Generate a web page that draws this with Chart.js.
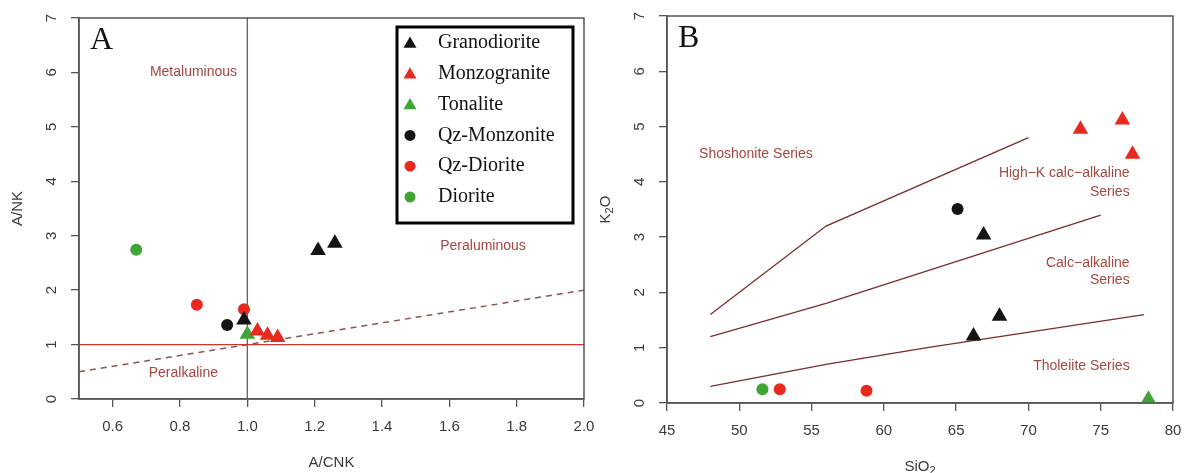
<!DOCTYPE html>
<html>
<head>
<meta charset="utf-8">
<script src="https://cdn.jsdelivr.net/npm/chart.js@4.4.0/dist/chart.umd.min.js"></script>
<style>
  html, body { margin: 0; padding: 0; background: #fff; }
  #wrap { position: relative; width: 1187px; height: 473px; }
  .panel { position: absolute; top: 0; }
  #panelA { left: 0; }
  #panelB { left: 600px; }
</style>
</head>
<body>
<div id="wrap">
  <div class="panel" id="panelA"><canvas id="chartA" width="600" height="473"></canvas></div>
  <div class="panel" id="panelB"><canvas id="chartB" width="587" height="473"></canvas></div>
</div>
<script>
// rock groups (same order in both diagrams and in the legend)
const rockNames = ['Granodiorite', 'Monzogranite', 'Tonalite', 'Qz-Monzonite', 'Qz-Diorite', 'Diorite'];
const rockColors = ['#141414', '#e8291f', '#3fa535', '#141414', '#e8291f', '#3fa535'];
const rockShapes = ['triangle', 'triangle', 'triangle', 'circle', 'circle', 'circle'];

// A: A/CNK (x) vs A/NK (y)
const acnkGranodiorite = [1.21, 1.26, 0.99];
const ankGranodiorite  = [2.73, 2.86, 1.45];
const acnkMonzogranite = [1.03, 1.06, 1.09];
const ankMonzogranite  = [1.25, 1.17, 1.13];
const acnkTonalite = [1.00];
const ankTonalite  = [1.19];
const acnkQzMonzonite = [0.94];
const ankQzMonzonite  = [1.36];
const acnkQzDiorite = [0.85, 0.99];
const ankQzDiorite  = [1.73, 1.65];
const acnkDiorite = [0.67];
const ankDiorite  = [2.74];

// B: SiO2 (x) vs K2O (y)
const sio2Granodiorite = [66.9, 68.0, 66.2];
const k2oGranodiorite  = [3.04, 1.57, 1.21];
const sio2Monzogranite = [73.6, 76.5, 77.2];
const k2oMonzogranite  = [4.95, 5.12, 4.50];
const sio2Tonalite = [78.3];
const k2oTonalite  = [0.07];
const sio2QzMonzonite = [65.1];
const k2oQzMonzonite  = [3.51];
const sio2QzDiorite = [52.8, 58.8];
const k2oQzDiorite  = [0.25, 0.22];
const sio2Diorite = [51.6];
const k2oDiorite  = [0.25];

// field boundaries in B
const shoshoniteSiO2 = [48, 56, 70];
const shoshoniteK2O  = [1.6, 3.2, 4.8];
const highKSiO2 = [48, 56, 75];
const highKK2O  = [1.2, 1.8, 3.4];
const tholeiiteSiO2 = [48, 56, 63, 78];
const tholeiiteK2O  = [0.3, 0.7, 1.0, 1.6];

// field boundaries in A
const metaluminousLimitX = [1.0, 1.0];
const metaluminousLimitY = [0, 7];
const peralkalineLimitX = [0.5, 2.0];
const peralkalineLimitY = [1, 1];
const equalLineX = [0.5, 2.0];
const equalLineY = [0.5, 2.0];

// axis ticks
const ticksAcnk = [0.6, 0.8, 1.0, 1.2, 1.4, 1.6, 1.8, 2.0];
const ticksAnk = [0, 1, 2, 3, 4, 5, 6, 7];
const ticksSiO2 = [45, 50, 55, 60, 65, 70, 75, 80];
const ticksK2O = [0, 1, 2, 3, 4, 5, 6, 7];

const SANS = '"Liberation Sans", Arial, sans-serif';
const SERIF = '"Liberation Serif", "Times New Roman", serif';

const toPoints = (xs, ys) => xs.map((x, i) => ({ x, y: ys[i] }));

function rockSets(xArrays, yArrays) {
  return rockNames.map((name, i) => ({
    label: name,
    rock: true,
    data: toPoints(xArrays[i], yArrays[i]),
    pointStyle: rockShapes[i],
    pointRadius: rockShapes[i] === 'triangle' ? 9 : 6,
    backgroundColor: rockColors[i],
    borderColor: rockColors[i],
    pointBorderWidth: 0,
    showLine: false,
    order: 1
  }));
}

function lineSet(xs, ys, color, width, dash) {
  return {
    data: toPoints(xs, ys),
    showLine: true,
    borderColor: color,
    borderWidth: width,
    borderDash: dash || [],
    pointRadius: 0,
    fill: false,
    order: 2
  };
}

function axis(min, max, ticks, size, horizontal) {
  return {
    type: 'linear',
    min, max,
    afterBuildTicks: s => { s.ticks = ticks.map(v => ({ value: v })); },
    afterFit: s => { if (horizontal) s.height = size; else s.width = size; },
    ticks: { display: false },
    grid: { drawOnChartArea: false, drawTicks: true, tickLength: 8, color: '#555', lineWidth: 1.3 },
    border: { display: true, color: '#555', width: 1.5 }
  };
}

// text made of plain and subscript pieces, centred on (cx, cy)
function drawRich(ctx, parts, cx, cy, angle) {
  const big = '15px ' + SANS, small = '11px ' + SANS;
  let total = 0;
  parts.forEach(p => { ctx.font = p[1] ? small : big; total += ctx.measureText(p[0]).width; });
  ctx.save();
  ctx.translate(cx, cy);
  ctx.rotate(angle);
  ctx.textAlign = 'left';
  ctx.textBaseline = 'middle';
  let x = -total / 2;
  parts.forEach(p => {
    ctx.font = p[1] ? small : big;
    ctx.fillText(p[0], x, p[1] ? 4 : 0);
    x += ctx.measureText(p[0]).width;
  });
  ctx.restore();
}

function drawLegend(chart, ctx) {
  const box = { left: 397, top: 27, right: 573, bottom: 223 };
  ctx.lineWidth = 3;
  ctx.strokeStyle = '#000';
  ctx.strokeRect(box.left, box.top, box.right - box.left, box.bottom - box.top);
  chart.data.datasets.filter(d => d.rock).forEach((d, i) => {
    const cy = box.top + 16 + i * 30.8;
    ctx.fillStyle = d.backgroundColor;
    Chart.helpers.drawPoint(ctx, {
      pointStyle: d.pointStyle,
      radius: d.pointStyle === 'triangle' ? 7.5 : 5.5,
      rotation: 0,
      borderWidth: 0
    }, box.left + 13, d.pointStyle === 'triangle' ? cy + 1 : cy);
    ctx.fillStyle = '#111';
    ctx.font = '20px ' + SERIF;
    ctx.textAlign = 'left';
    ctx.textBaseline = 'middle';
    ctx.fillText(d.label, box.left + 41, cy);
  });
}

// frame, tick labels, titles, field names and panel letter
const decorations = cfg => ({
  id: 'decorations',
  afterDraw(chart) {
    const { ctx, chartArea: ca } = chart;
    const x = chart.scales.x, y = chart.scales.y;
    ctx.save();
    ctx.strokeStyle = '#555';
    ctx.lineWidth = 1.5;
    ctx.strokeRect(ca.left, ca.top, ca.right - ca.left, ca.bottom - ca.top);

    ctx.fillStyle = '#3a3a3a';
    ctx.font = '15px ' + SANS;
    ctx.textAlign = 'center';
    ctx.textBaseline = 'middle';
    cfg.xTicks.forEach(v => ctx.fillText(v.toFixed(cfg.xDigits), x.getPixelForValue(v), ca.bottom + 28));
    cfg.yTicks.forEach(v => {
      ctx.save();
      ctx.translate(ca.left - 27, y.getPixelForValue(v));
      ctx.rotate(-Math.PI / 2);
      ctx.fillText(String(v), 0, 0);
      ctx.restore();
    });

    drawRich(ctx, cfg.xTitle, (ca.left + ca.right) / 2, ca.bottom + 64, 0);
    drawRich(ctx, cfg.yTitle, ca.left - 61, (ca.top + ca.bottom) / 2, -Math.PI / 2);

    ctx.fillStyle = '#a5463f';
    ctx.font = '14px ' + SANS;
    ctx.textBaseline = 'middle';
    cfg.fields.forEach(f => {
      ctx.textAlign = f.align || 'center';
      ctx.fillText(f.text, x.getPixelForValue(f.x), y.getPixelForValue(f.y));
    });

    ctx.fillStyle = '#111';
    ctx.font = '32px ' + SERIF;
    ctx.textAlign = 'left';
    ctx.textBaseline = 'alphabetic';
    ctx.fillText(cfg.letter, ca.left + 11, ca.top + 30.5);

    if (cfg.legend) drawLegend(chart, ctx);
    ctx.restore();
  }
});

function baseOptions(padding, xAxis, yAxis) {
  return {
    responsive: false,
    animation: false,
    layout: { padding },
    scales: { x: xAxis, y: yAxis },
    plugins: { legend: { display: false }, tooltip: { enabled: false } }
  };
}

// Diagram A
new Chart(document.getElementById('chartA'), {
  type: 'scatter',
  data: {
    datasets: [
      ...rockSets(
        [acnkGranodiorite, acnkMonzogranite, acnkTonalite, acnkQzMonzonite, acnkQzDiorite, acnkDiorite],
        [ankGranodiorite, ankMonzogranite, ankTonalite, ankQzMonzonite, ankQzDiorite, ankDiorite]
      ),
      lineSet(metaluminousLimitX, metaluminousLimitY, '#a04a45', 1.3),
      lineSet(peralkalineLimitX, peralkalineLimitY, '#c8372d', 1.3),
      lineSet(equalLineX, equalLineY, '#8e5550', 1.5, [6, 5])
    ]
  },
  options: baseOptions({ left: 0, right: 16, top: 18, bottom: 0 },
    axis(0.5, 2.0, ticksAcnk, 74, true),
    axis(0, 7, ticksAnk, 79, false)),
  plugins: [decorations({
    xTicks: ticksAcnk, xDigits: 1, yTicks: ticksAnk,
    xTitle: [['A/CNK']], yTitle: [['A/NK']],
    letter: 'A', legend: true,
    fields: [
      { text: 'Metaluminous', x: 0.84, y: 6.0 },
      { text: 'Peralkaline', x: 0.81, y: 0.48 },
      { text: 'Peraluminous', x: 1.70, y: 2.8 }
    ]
  })]
});

// Diagram B
new Chart(document.getElementById('chartB'), {
  type: 'scatter',
  data: {
    datasets: [
      ...rockSets(
        [sio2Granodiorite, sio2Monzogranite, sio2Tonalite, sio2QzMonzonite, sio2QzDiorite, sio2Diorite],
        [k2oGranodiorite, k2oMonzogranite, k2oTonalite, k2oQzMonzonite, k2oQzDiorite, k2oDiorite]
      ),
      lineSet(shoshoniteSiO2, shoshoniteK2O, '#7b2d2b', 1.3),
      lineSet(highKSiO2, highKK2O, '#7b2d2b', 1.3),
      lineSet(tholeiiteSiO2, tholeiiteK2O, '#7b2d2b', 1.3)
    ]
  },
  options: baseOptions({ left: 0, right: 14, top: 16, bottom: 0 },
    axis(45, 80, ticksSiO2, 70, true),
    axis(0, 7, ticksK2O, 67, false)),
  plugins: [decorations({
    xTicks: ticksSiO2, xDigits: 0, yTicks: ticksK2O,
    xTitle: [['SiO'], ['2', true]], yTitle: [['K'], ['2', true], ['O']],
    letter: 'B', legend: false,
    fields: [
      { text: 'Shoshonite Series', x: 51.15, y: 4.5 },
      { text: 'High\u2212K calc\u2212alkaline', x: 77.0, y: 4.16, align: 'right' },
      { text: 'Series', x: 77.0, y: 3.82, align: 'right' },
      { text: 'Calc\u2212alkaline', x: 77.0, y: 2.53, align: 'right' },
      { text: 'Series', x: 77.0, y: 2.22, align: 'right' },
      { text: 'Tholeiite Series', x: 77.0, y: 0.67, align: 'right' }
    ]
  })]
});
</script>
</body>
</html>
